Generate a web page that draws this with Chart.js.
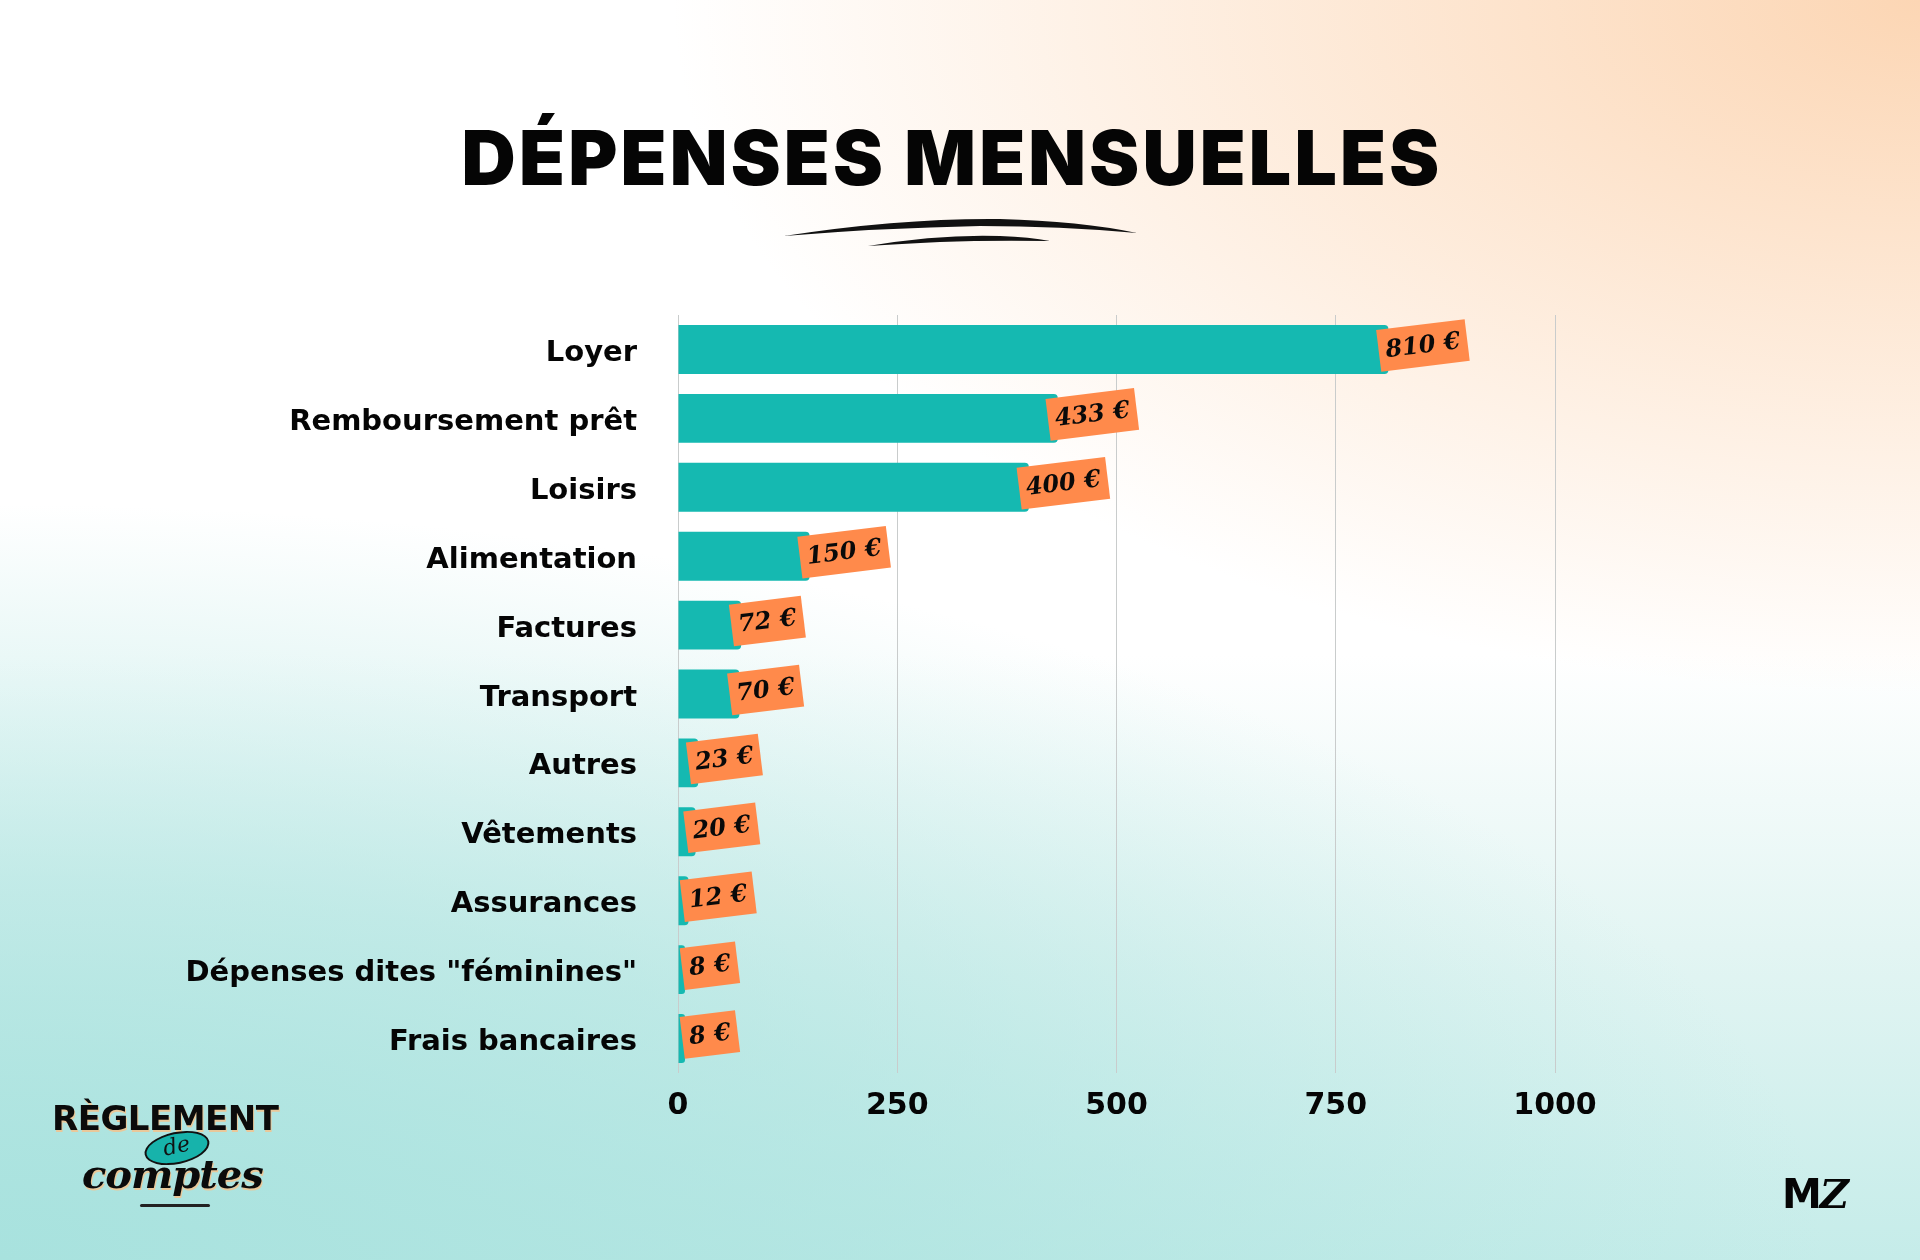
<!DOCTYPE html>
<html lang="fr">
<head>
<meta charset="utf-8">
<title>Dépenses mensuelles</title>
<script src="https://cdn.jsdelivr.net/npm/chart.js@4.4.1/dist/chart.umd.min.js"></script>
<style>
  html, body { margin: 0; padding: 0; }
  body {
    width: 1920px; height: 1260px; position: relative; overflow: hidden;
    background:
      radial-gradient(ellipse 65% 55% at 100% 0%, rgba(252,214,180,1) 0%, rgba(252,214,180,0.55) 45%, rgba(252,214,180,0) 100%),
      radial-gradient(ellipse 95% 60% at 0% 100%, rgba(168,226,222,1) 0%, rgba(168,226,222,0.6) 50%, rgba(168,226,222,0) 100%),
      linear-gradient(180deg, #ffffff 0%, #ffffff 52%, #e3f5f3 75%, #c5ece9 100%);
    font-family: "DejaVu Sans", sans-serif;
  }
  #chart { position: absolute; left: 0; top: 0; }
  h1 {
    position: absolute; left: 0; width: 1904px; top: 118px; margin: 0;
    text-align: center; font-family: Inter, "DejaVu Sans", sans-serif;
    font-weight: 900; font-size: 75px; line-height: 80px; color: #050505;
    letter-spacing: 3.2px;
  }
  .logo { position: absolute; left: 52px; top: 1098px; width: 245px; height: 110px; }
  .logo .reg {
    position: absolute; left: 0; top: 0; font-family: "DejaVu Sans", sans-serif;
    font-weight: bold; font-size: 34px; color: #0b0b0b; letter-spacing: -0.5px;
    text-shadow: 1px 2px 0 #e9c89a;
  }
  .logo .de {
    position: absolute; left: 92px; top: 34px; width: 62px; height: 28px;
    border: 2px solid #111; border-radius: 50%; background: #17b3ab;
    transform: rotate(-12deg); text-align: center;
    font-family: "DejaVu Serif", serif; font-style: italic; font-size: 22px; line-height: 24px; color: #111;
  }
  .logo .comptes {
    position: absolute; left: 30px; top: 52px; font-family: "DejaVu Serif", serif;
    font-style: italic; font-weight: bold; font-size: 40px; color: #0b0b0b;
    text-shadow: 1px 2px 0 #e9c89a; letter-spacing: -1px;
  }
  .logo .line { position: absolute; left: 88px; top: 106px; width: 70px; height: 3px; background: #222; border-radius: 2px; }
  .mz {
    position: absolute; left: 1782px; top: 1170px; font-family: "DejaVu Sans", sans-serif;
    font-weight: bold; font-size: 40px; color: #050505; letter-spacing: -2px;
  }
  .mz i { font-family: "DejaVu Serif", serif; font-weight: bold; }
</style>
</head>
<body>
<canvas id="chart" width="1920" height="1260"></canvas>
<h1>DÉPENSES MENSUELLES</h1>
<div class="logo">
  <div class="reg">RÈGLEMENT</div>
  <div class="comptes">comptes</div>
  <div class="de">de</div>
  <div class="line"></div>
</div>
<div class="mz">M<i>Z</i></div>
<script>
  // Données
  const categories = [
    "Loyer",
    "Remboursement prêt",
    "Loisirs",
    "Alimentation",
    "Factures",
    "Transport",
    "Autres",
    "Vêtements",
    "Assurances",
    'Dépenses dites "féminines"',
    "Frais bancaires",
  ];
  const montants = [810, 433, 400, 150, 72, 70, 23, 20, 12, 8, 8];
  const xTicks = [0, 250, 500, 750, 1000];

  const TEAL = "#15b9b1";
  const ORANGE = "#ff8a4b";

  // Trait de pinceau sous le titre
  const brushPlugin = {
    id: "brush",
    afterDraw(chart) {
      const ctx = chart.ctx;
      ctx.save();
      ctx.fillStyle = "#111";
      ctx.beginPath();
      ctx.moveTo(784, 236);
      ctx.quadraticCurveTo(900, 218, 1000, 219);
      ctx.quadraticCurveTo(1080, 221, 1137, 233);
      ctx.quadraticCurveTo(1060, 226, 980, 226);
      ctx.quadraticCurveTo(880, 228, 784, 236);
      ctx.fill();
      ctx.beginPath();
      ctx.moveTo(868, 246);
      ctx.quadraticCurveTo(940, 234, 1000, 236);
      ctx.quadraticCurveTo(1030, 237, 1050, 241);
      ctx.quadraticCurveTo(990, 240, 940, 242);
      ctx.quadraticCurveTo(900, 244, 868, 246);
      ctx.fill();
      ctx.restore();
    },
  };

  // Étiquettes orange inclinées au bout des barres
  const tagPlugin = {
    id: "tags",
    afterDatasetsDraw(chart) {
      const ctx = chart.ctx;
      const meta = chart.getDatasetMeta(0);
      const left = chart.chartArea.left;
      ctx.save();
      ctx.font = "italic bold 24px 'DejaVu Serif', serif";
      meta.data.forEach((bar, i) => {
        const txt = montants[i] + " €";
        const w = ctx.measureText(txt).width + 14;
        const h = 42;
        const x0 = Math.max(bar.x - 10, left + 4);
        const cx = x0 + w / 2;
        const cy = bar.y - 4;
        ctx.save();
        ctx.translate(cx, cy);
        ctx.rotate(-7 * Math.PI / 180);
        ctx.fillStyle = ORANGE;
        ctx.fillRect(-w / 2, -h / 2, w, h);
        ctx.fillStyle = "#0a0a0a";
        ctx.textAlign = "center";
        ctx.textBaseline = "middle";
        ctx.fillText(txt, 0, 1);
        ctx.restore();
      });
      ctx.restore();
    },
  };

  new Chart(document.getElementById("chart").getContext("2d"), {
    type: "bar",
    data: {
      labels: categories,
      datasets: [
        {
          data: montants,
          backgroundColor: TEAL,
          borderRadius: 4,
          barPercentage: 0.71,
          categoryPercentage: 1,
        },
      ],
    },
    options: {
      indexAxis: "y",
      responsive: false,
      animation: false,
      layout: { padding: { top: 315, right: 365, bottom: 121, left: 0 } },
      plugins: {
        legend: { display: false },
        tooltip: { enabled: false },
      },
      scales: {
        x: {
          min: 0,
          max: 1000,
          afterBuildTicks: (s) => { s.ticks = xTicks.map((v) => ({ value: v })); },
          grid: { color: "#c9cccc", lineWidth: 1, drawTicks: false },
          border: { display: false },
          ticks: {
            padding: 15,
            color: "#050505",
            callback: (v) => String(v),
            font: { family: "'DejaVu Sans', sans-serif", weight: "bold", size: 30 },
          },
        },
        y: {
          afterFit: (s) => { s.width = 678; },
          grid: { display: false },
          border: { display: false },
          ticks: {
            padding: 33,
            labelOffset: 4,
            color: "#050505",
            font: { family: "'DejaVu Sans', sans-serif", weight: "bold", size: 29 },
          },
        },
      },
    },
    plugins: [brushPlugin, tagPlugin],
  });
</script>
</body>
</html>
